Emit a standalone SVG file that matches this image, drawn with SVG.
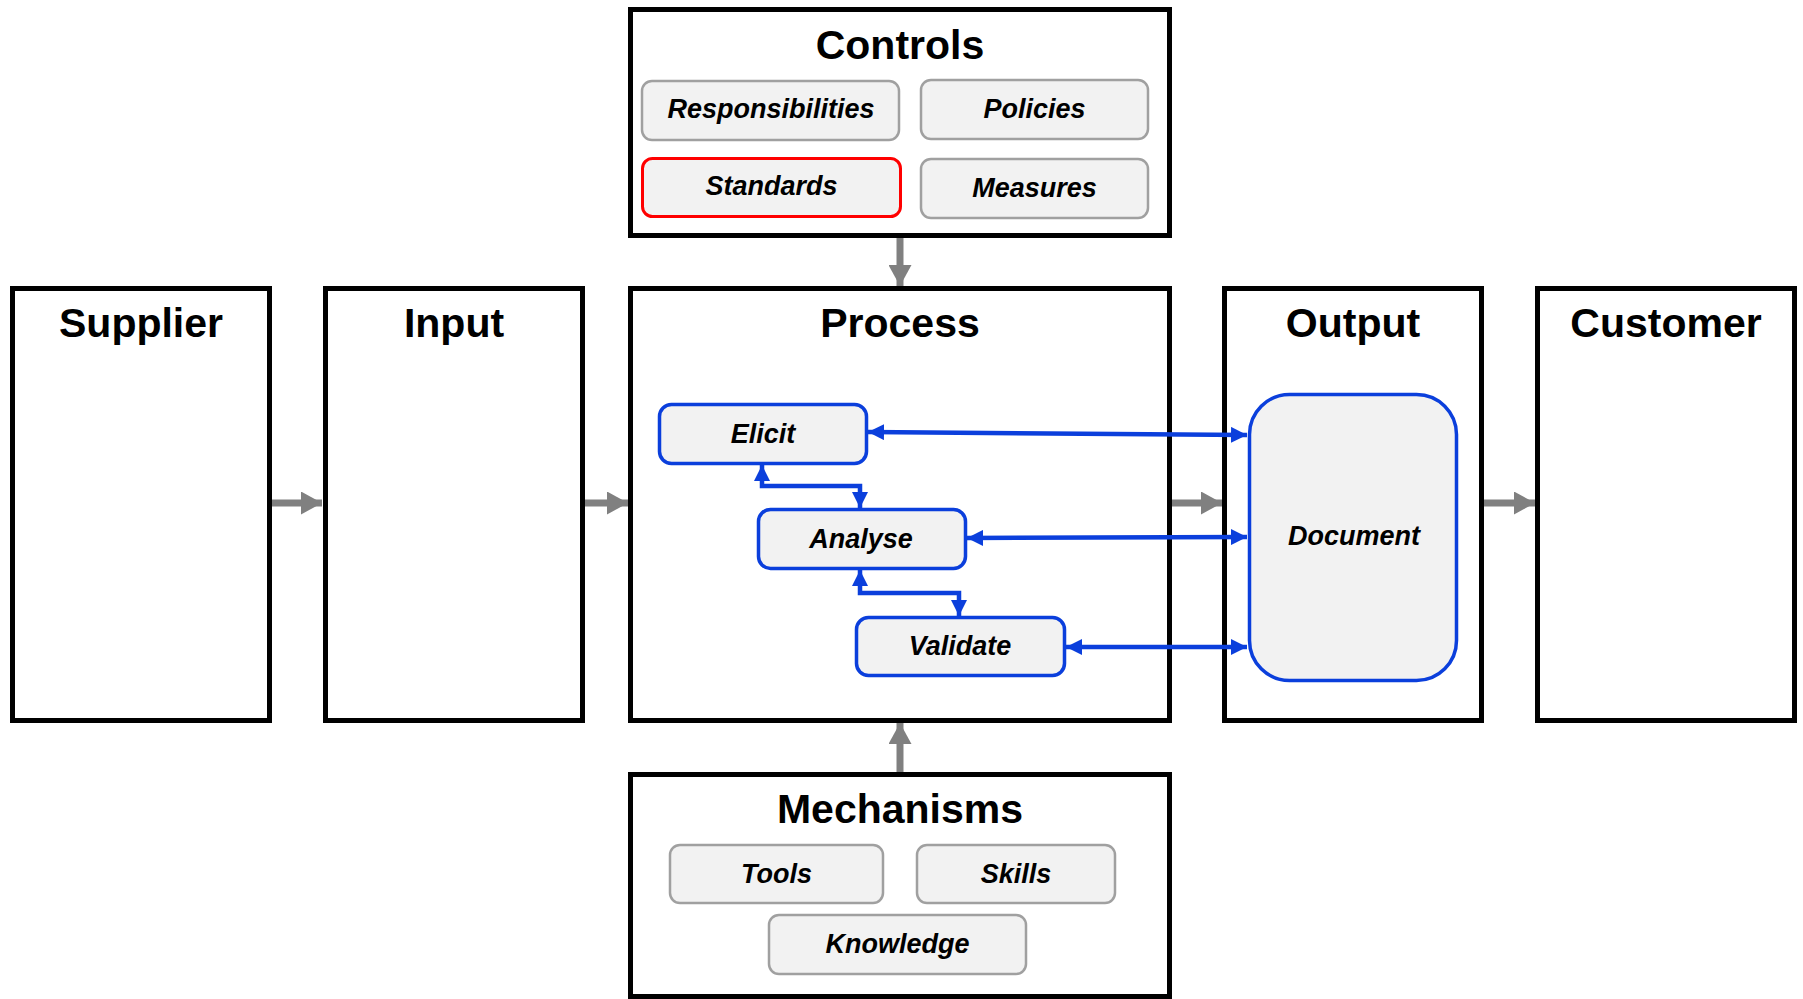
<svg xmlns="http://www.w3.org/2000/svg" width="1803" height="999" viewBox="0 0 1803 999">
  <style>
    .frame { fill: #ffffff; stroke: #000000; stroke-width: 5; }
    .title { font-family: "Liberation Sans", Arial, sans-serif; font-weight: bold; font-size: 41px; fill: #000000; text-anchor: middle; }
    .item { fill: #f2f2f2; stroke: #a0a0a0; stroke-width: 2.5; }
    .item-red { fill: #f2f2f2; stroke: #ff0000; stroke-width: 3; }
    .step { fill: #f2f2f2; stroke: #0b3fdc; stroke-width: 3.5; }
    .label { font-family: "Liberation Sans", Arial, sans-serif; font-weight: bold; font-style: italic; font-size: 27px; fill: #000000; text-anchor: middle; }
    .flow { fill: none; stroke: #808080; stroke-width: 7; marker-end: url(#grayHead); }
    .link { fill: none; stroke: #0b3fdc; stroke-width: 4.5; marker-start: url(#blueHead); marker-end: url(#blueHead); }
  </style>
  <defs>
    <marker id="grayHead" markerUnits="userSpaceOnUse" markerWidth="21" markerHeight="23" viewBox="0 0 21 23" refX="21" refY="11.5" orient="auto">
      <path d="M0,0 L21,11.5 L0,23 z" fill="#808080"/>
    </marker>
    <marker id="blueHead" markerUnits="userSpaceOnUse" markerWidth="16" markerHeight="16" viewBox="0 0 16 16" refX="16" refY="8" orient="auto-start-reverse">
      <path d="M0,0 L16,8 L0,16 z" fill="#0b3fdc"/>
    </marker>
  </defs>

  <!-- main flow columns -->
  <g id="supplier">
    <rect class="frame" x="12.5" y="288.5" width="257" height="432"/>
    <text class="title" x="141" y="337">Supplier</text>
  </g>
  <g id="input">
    <rect class="frame" x="325.5" y="288.5" width="257" height="432"/>
    <text class="title" x="454" y="337">Input</text>
  </g>
  <g id="process">
    <rect class="frame" x="630.5" y="288.5" width="539" height="432"/>
    <text class="title" x="900" y="337">Process</text>
  </g>
  <g id="output">
    <rect class="frame" x="1224.5" y="288.5" width="257" height="432"/>
    <text class="title" x="1353" y="337">Output</text>
  </g>
  <g id="customer">
    <rect class="frame" x="1537.5" y="288.5" width="257" height="432"/>
    <text class="title" x="1666" y="337">Customer</text>
  </g>

  <!-- controls panel -->
  <g id="controls">
    <rect class="frame" x="630.5" y="9.5" width="539" height="226"/>
    <text class="title" x="900" y="59">Controls</text>
  </g>
  <g id="responsibilities">
    <rect class="item" x="642" y="81" width="257" height="59" rx="10"/>
    <text class="label" x="771" y="118">Responsibilities</text>
  </g>
  <g id="policies">
    <rect class="item" x="921" y="80" width="227" height="59" rx="10"/>
    <text class="label" x="1034.5" y="118">Policies</text>
  </g>
  <g id="standards">
    <rect class="item-red" x="642.5" y="158.5" width="258" height="58" rx="10"/>
    <text class="label" x="771.5" y="195">Standards</text>
  </g>
  <g id="measures">
    <rect class="item" x="921" y="159" width="227" height="59" rx="10"/>
    <text class="label" x="1034.5" y="197">Measures</text>
  </g>

  <!-- mechanisms panel -->
  <g id="mechanisms">
    <rect class="frame" x="630.5" y="774.5" width="539" height="222"/>
    <text class="title" x="900" y="823">Mechanisms</text>
  </g>
  <g id="tools">
    <rect class="item" x="670" y="845" width="213" height="58" rx="10"/>
    <text class="label" x="776.5" y="883">Tools</text>
  </g>
  <g id="skills">
    <rect class="item" x="917" y="845" width="198" height="58" rx="10"/>
    <text class="label" x="1016" y="883">Skills</text>
  </g>
  <g id="knowledge">
    <rect class="item" x="769" y="915" width="257" height="59" rx="10"/>
    <text class="label" x="897.5" y="953">Knowledge</text>
  </g>

  <!-- process steps -->
  <g id="elicit">
    <rect class="step" x="659.5" y="404.5" width="207" height="59" rx="12"/>
    <text class="label" x="763" y="443">Elicit</text>
  </g>
  <g id="analyse">
    <rect class="step" x="758.5" y="509.5" width="207" height="59" rx="12"/>
    <text class="label" x="861" y="548">Analyse</text>
  </g>
  <g id="validate">
    <rect class="step" x="856.5" y="617.5" width="208" height="58" rx="12"/>
    <text class="label" x="960" y="655">Validate</text>
  </g>
  <g id="document">
    <rect class="step" x="1249.5" y="394.5" width="207" height="286" rx="40"/>
    <text class="label" x="1354" y="545">Document</text>
  </g>

  <!-- connectors -->
  <g id="connectors">
    <path class="flow" d="M272,503 H322"/>
    <path class="flow" d="M585,503 H628"/>
    <path class="flow" d="M1172,503 H1222"/>
    <path class="flow" d="M1484,503 H1535"/>
    <path class="flow" d="M900,238 V286"/>
    <path class="flow" d="M900,772 V723"/>

    <path class="link" d="M868,432 L1247,435"/>
    <path class="link" d="M967,538 L1247,537"/>
    <path class="link" d="M1066,647 L1247,647"/>
    <path class="link" d="M762,465 V486 H860 V508"/>
    <path class="link" d="M860,570 V593 H959 V616"/>
  </g>
</svg>
